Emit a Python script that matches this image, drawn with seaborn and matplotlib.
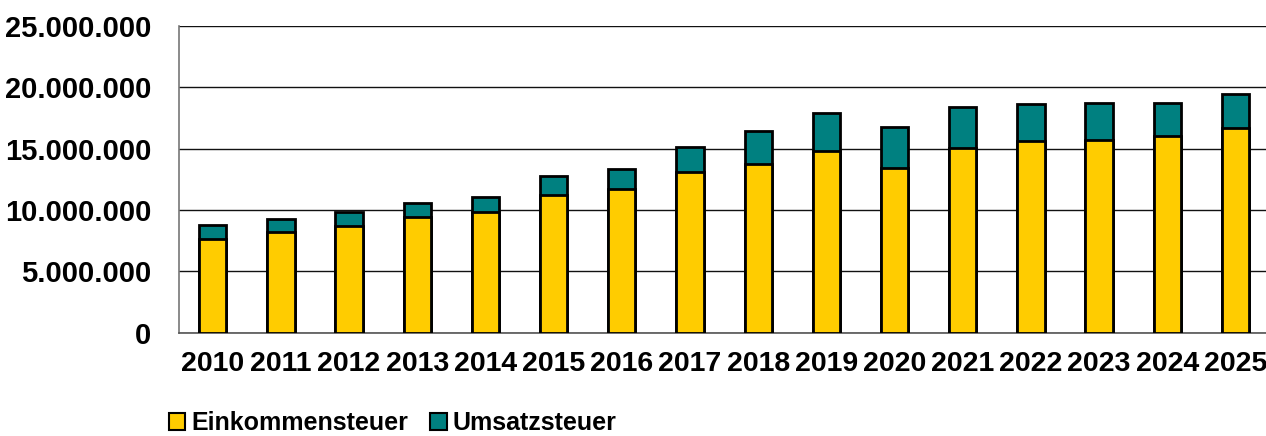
import matplotlib
matplotlib.use("Agg")
import matplotlib.pyplot as plt
import matplotlib.ticker as mticker
from matplotlib.patches import Patch
import seaborn as sns
import numpy as np
import pandas as pd

# Werte
jahre = ["2010", "2011", "2012", "2013", "2014", "2015", "2016", "2017",
         "2018", "2019", "2020", "2021", "2022", "2023", "2024", "2025"]
einkommensteuer = [7660000, 8180000, 8720000, 9430000, 9860000, 11220000, 11740000, 13120000,
                   13770000, 14800000, 13430000, 15050000, 15600000, 15680000, 16000000, 16660000]
umsatzsteuer = [1090000, 1090000, 1120000, 1170000, 1220000, 1550000, 1580000, 2010000,
                2680000, 3120000, 3340000, 3370000, 3010000, 3060000, 2720000, 2770000]
labels = ["Einkommensteuer", "Umsatzsteuer"]
farben = ["#FFCC00", "#008080"]

df = pd.DataFrame({"Jahr": jahre, "ESt": einkommensteuer, "USt": umsatzsteuer})
df["Gesamt"] = df["ESt"] + df["USt"]

sns.set_style("white")
plt.rcParams["font.family"] = ["Liberation Sans", "DejaVu Sans"]
plt.rcParams["font.weight"] = "bold"
plt.rcParams["text.color"] = "black"
plt.rcParams["xtick.color"] = "black"
plt.rcParams["ytick.color"] = "black"

fig = plt.figure(figsize=(12.66, 4.36), dpi=100)
ax = fig.add_axes([178.6 / 1266, 1 - 332.7 / 436, (1269.6 - 178.6) / 1266, (332.7 - 26) / 436])

# gestapelte Säulen: Gesamt (Umsatzsteuer oben), darüber Einkommensteuer
sns.barplot(data=df, x="Jahr", y="Gesamt", color=farben[1], saturation=1, width=0.4,
            edgecolor="black", linewidth=2, ax=ax, zorder=3)
sns.barplot(data=df, x="Jahr", y="ESt", color=farben[0], saturation=1, width=0.4,
            edgecolor="black", linewidth=2, ax=ax, zorder=4)

ax.set_xlim(-0.5, len(jahre) - 0.5)
ax.set_ylim(0, 25000000)
ax.set_yticks(np.arange(0, 25000001, 5000000))
ax.yaxis.set_major_formatter(mticker.FuncFormatter(lambda v, p: f"{int(v):,}".replace(",", ".")))
ax.grid(axis="y", color="#111111", linewidth=1, zorder=0)
ax.set_axisbelow(True)

for s in ["top", "right"]:
    ax.spines[s].set_visible(False)
ax.spines["left"].set_color("#777777")
ax.spines["bottom"].set_color("#555555")
ax.spines["left"].set_linewidth(1.2)
ax.spines["bottom"].set_linewidth(1.2)

ax.set_xlabel("")
ax.set_ylabel("")
ax.tick_params(axis="y", length=6.5, width=1, color="#555555", labelcolor="black", pad=13, labelsize=21)
ax.tick_params(axis="x", which="major", length=0, pad=13, labelcolor="black", labelsize=20.5)
ax.set_xticks(np.arange(-0.5, len(jahre), 1), minor=True)
ax.tick_params(axis="x", which="minor", length=7, width=1, color="#555555", direction="out")
for t in ax.get_xticklabels() + ax.get_yticklabels():
    t.set_fontweight("bold")

handles = [Patch(facecolor=farben[0], edgecolor="black", linewidth=1.5),
           Patch(facecolor=farben[1], edgecolor="black", linewidth=1.5)]
fig.legend(handles, labels, loc="lower left", bbox_to_anchor=(146 / 1266, -0.05),
           ncol=2, frameon=False, handlelength=0.65, handleheight=0.65,
           handletextpad=0.25, columnspacing=0.9,
           prop={"size": 18, "weight": "bold"})

fig.savefig("out.png", dpi=100)
